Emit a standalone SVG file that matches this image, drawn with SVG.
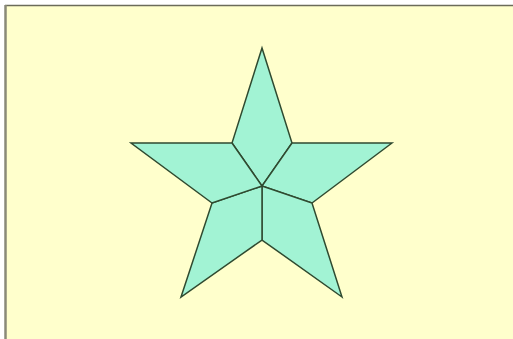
<svg xmlns="http://www.w3.org/2000/svg" width="513" height="339" viewBox="0 0 513 339">
<style>
.k{fill:#a2f3d4;stroke:#2f4a30;stroke-width:1.5;stroke-linejoin:miter}
</style>
<rect x="0" y="0" width="513" height="339" fill="#ffffff"/>
<rect x="5" y="5" width="508" height="334" fill="#ffffcc"/>
<line x1="5" y1="5.5" x2="513" y2="5.5" stroke="#6b6b5a" stroke-width="1.5"/>
<line x1="5.5" y1="5" x2="5.5" y2="339" stroke="#8a8a78" stroke-width="2.5"/>
<g id="star">
<polygon id="kite-top" class="k" points="262,48 292,143 262,186 232,143"/>
<polygon id="kite-right" class="k" points="392,143 312,203 262,186 292,143"/>
<polygon id="kite-bottom-right" class="k" points="342,297 262,240 262,186 312,203"/>
<polygon id="kite-bottom-left" class="k" points="181,297 212,203 262,186 262,240"/>
<polygon id="kite-left" class="k" points="131,143 232,143 262,186 212,203"/>
</g>
</svg>
